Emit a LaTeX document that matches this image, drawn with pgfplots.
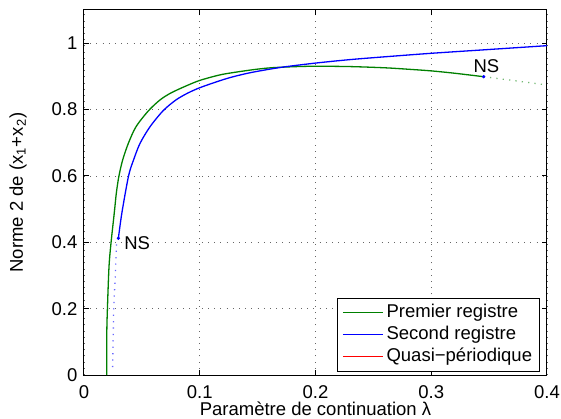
\documentclass[border=0pt]{standalone}
\usepackage{fontspec}
\setmainfont{Liberation Sans}
\usepackage{pgfplots}
\pgfplotsset{compat=1.18}
\definecolor{mgreen}{rgb}{0,0.5,0}
\begin{document}
\fontsize{9.25}{11}\selectfont
\begin{tikzpicture}
\useasboundingbox (-42pt,-21.5pt) rectangle (238.5pt,187.5pt);
\begin{axis}[
  at={(0,0)}, anchor=south west,
  scale only axis, width=231.5pt, height=182.5pt,
  xmin=0, xmax=0.4, ymin=0, ymax=1.1,
  xtick={0,0.1,0.2,0.3,0.4}, ytick={0,0.2,0.4,0.6,0.8,1},
  /pgf/number format/assume math mode=true,
  tick align=inside, major tick length=2.5pt,
  tick style={black, line width=0.5pt},
  axis line style={line width=0.5pt},
  grid=major,
  grid style={black!60, line width=0.4pt, dash pattern=on 0.5pt off 2.6pt},
  xticklabel style={yshift=-2pt},
  xlabel={Paramètre de continuation λ},
  ylabel={Norme 2 de (x\textsubscript{1}+x\textsubscript{2})},
  xlabel style={at={(axis description cs:0.5,-0.1123)}, anchor=base},
  ylabel style={at={(axis description cs:-0.1318,0.5)}, anchor=base, rotate=0},
  legend style={at={(axis description cs:0.98488,0.0085)}, anchor=south east,
    draw=black, line width=0.5pt, fill=white, inner xsep=2.2pt, inner ysep=1.8pt,
    row sep=0pt,
    nodes={inner xsep=1.5pt, inner ysep=1.1pt, text height=6.8pt, text depth=2pt}},
  legend cell align=left,
  legend image code/.code={\draw[#1] (0pt,0pt) -- (20pt,0pt);},
]
\addplot[mgreen, line width=0.65pt, smooth, tension=0.5] coordinates {
(0.0196,0) (0.0197,0.126) (0.0202,0.196) (0.0216,0.326) (0.0234,0.40)
(0.0262,0.49) (0.0280,0.55) (0.0302,0.60) (0.0334,0.648) (0.0383,0.698)
(0.0449,0.748) (0.0556,0.796) (0.0657,0.829) (0.0751,0.850) (0.0881,0.871)
(0.1002,0.888) (0.1169,0.904) (0.1290,0.9115) (0.1470,0.9205) (0.1621,0.926)
(0.1820,0.9292) (0.2000,0.9305) (0.2298,0.9295) (0.2600,0.9258) (0.2800,0.9215)
(0.3000,0.9165) (0.3200,0.9095) (0.3453,0.899)};
\addlegendentry{Premier registre}
\addplot[blue, line width=0.65pt, smooth, tension=0.5] coordinates {
(0.0297,0.412) (0.0328,0.49) (0.0385,0.60) (0.0428,0.648) (0.0484,0.698)
(0.0570,0.748) (0.0685,0.797) (0.0795,0.829) (0.0893,0.849) (0.1002,0.866)
(0.1175,0.887) (0.1290,0.899) (0.1450,0.912) (0.1700,0.927) (0.2000,0.940)
(0.2298,0.9505) (0.2600,0.959) (0.3000,0.9695) (0.3500,0.981) (0.4000,0.9925)};
\addlegendentry{Second registre}
\addlegendimage{red, line width=0.65pt}
\addlegendentry{Quasi−périodique}
\addplot[mgreen!55, line width=0.65pt, dash pattern=on 0.6pt off 2.6pt, forget plot] coordinates {
(0.3453,0.899) (0.3720,0.887) (0.4000,0.874)};
\addplot[blue!60, line width=0.65pt, dash pattern=on 0.6pt off 2.6pt, forget plot] coordinates {
(0.0297,0.412) (0.0282,0.40) (0.0274,0.326) (0.0256,0.196) (0.0253,0.126) (0.0247,0.017)};
\addplot[blue, only marks, mark=*, mark size=0.6pt, forget plot] coordinates {
(0.0297,0.412) (0.3453,0.899)};
\node[anchor=west, inner sep=0pt, xshift=2.8pt, yshift=-2.2pt] at (axis cs:0.0297,0.412) {NS};
\node[anchor=south, inner sep=0pt, xshift=1.4pt, yshift=1.85pt] at (axis cs:0.3453,0.899) {NS};
\end{axis}
\end{tikzpicture}
\end{document}
